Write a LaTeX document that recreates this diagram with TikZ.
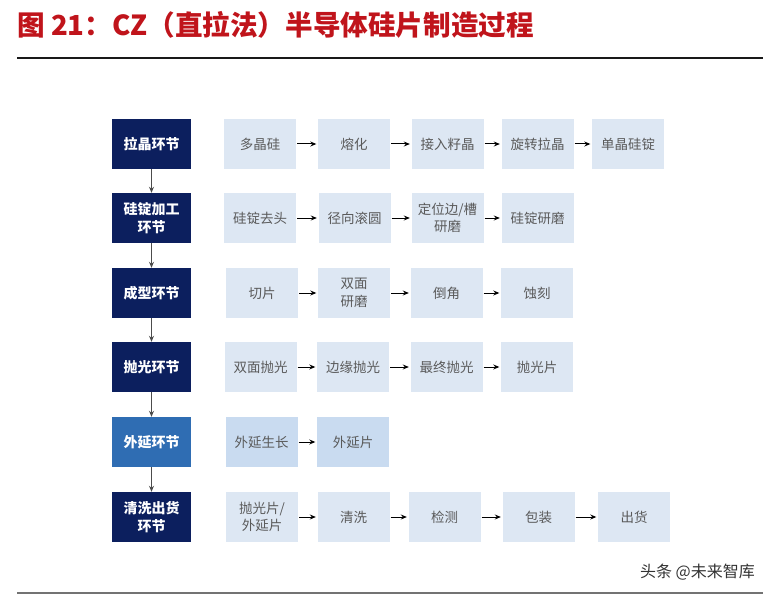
\documentclass[tikz,border=0pt]{standalone}
\usepackage{fontspec}
\newfontfamily\cjk{Noto Sans CJK SC}
\usetikzlibrary{arrows.meta}
\definecolor{titlered}{HTML}{C0141B}
\definecolor{navy}{HTML}{0C1F5E}
\definecolor{midblue}{HTML}{2F6DB3}
\definecolor{lightbox}{HTML}{DDE7F3}
\definecolor{epibox}{HTML}{C9DBF0}
\definecolor{boxtext}{HTML}{5A5A5A}
\begin{document}
\begin{tikzpicture}[x=1pt,y=-1pt,
 stage/.style={fill=navy, minimum width=79pt, minimum height=50pt, inner sep=0pt, text=white, font=\cjk\bfseries\fontsize{14}{18}\selectfont, align=center},
 stepbox/.style={fill=lightbox, minimum width=72pt, minimum height=50pt, inner sep=0pt, text=boxtext, font=\cjk\fontsize{13.5}{17.5}\selectfont, align=center},
 flow/.style={-{Stealth[length=6pt,width=5pt]}, line width=1pt, black, shorten <=1pt, shorten >=1.5pt},
 down/.style={-{Stealth[length=6pt,width=5pt]}, line width=1pt, black!70}]
\useasboundingbox (0,0) rectangle (770,596);

% title and rules
\node[anchor=west, inner sep=0pt, text=titlered, font=\cjk\bfseries\fontsize{27.6}{32}\selectfont] (title) at (17,25) {图 21：CZ（直拉法）半导体硅片制造过程};
\draw[line width=2pt, black!90] (17,58) -- (763,58);
\draw[line width=1.5pt, black!55] (17,593) -- (763,593);
\node[anchor=east, inner sep=0pt, font=\cjk\fontsize{16}{18}\selectfont, text=black!80] (wm) at (755,572) {头条 @未来智库};

% stages
\node[stage] (s1) at (151.5,144) {拉晶环节};
\node[stage] (s2) at (151.5,218) {硅锭加工\\环节};
\node[stage] (s3) at (151.5,293) {成型环节};
\node[stage] (s4) at (151.5,367) {抛光环节};
\node[stage, fill=midblue] (s5) at (151.5,442) {外延环节};
\node[stage] (s6) at (151.5,517) {清洗出货\\环节};
\foreach \a/\b in {s1/s2,s2/s3,s3/s4,s4/s5,s5/s6}
  \draw[down] (\a) -- (\b);

% row 1
\node[stepbox] (a1) at (260,144) {多晶硅};
\node[stepbox] (a2) at (354,144) {熔化};
\node[stepbox] (a3) at (447.5,144) {接入籽晶};
\node[stepbox] (a4) at (537.5,144) {旋转拉晶};
\node[stepbox] (a5) at (628,144) {单晶硅锭};
% row 2
\node[stepbox] (b1) at (260,218) {硅锭去头};
\node[stepbox] (b2) at (354.5,218) {径向滚圆};
\node[stepbox] (b3) at (447.5,218) {定位边/槽\\研磨};
\node[stepbox] (b4) at (537.5,218) {硅锭研磨};
% row 3
\node[stepbox] (c1) at (262,293) {切片};
\node[stepbox] (c2) at (354,293) {双面\\研磨};
\node[stepbox] (c3) at (446.5,293) {倒角};
\node[stepbox] (c4) at (537,293) {蚀刻};
% row 4
\node[stepbox] (d1) at (260.5,367) {双面抛光};
\node[stepbox] (d2) at (353,367) {边缘抛光};
\node[stepbox] (d3) at (446.5,367) {最终抛光};
\node[stepbox] (d4) at (537,367) {抛光片};
% row 5
\node[stepbox, fill=epibox] (e1) at (261.5,442) {外延生长};
\node[stepbox, fill=epibox] (e2) at (353,442) {外延片};
% row 6
\node[stepbox] (f1) at (262,517) {抛光片/\\外延片};
\node[stepbox] (f2) at (353.5,517) {清洗};
\node[stepbox] (f3) at (444.5,517) {检测};
\node[stepbox] (f4) at (538.5,517) {包装};
\node[stepbox] (f5) at (634,517) {出货};

\foreach \a/\b in {a1/a2,a2/a3,a3/a4,a4/a5,b1/b2,b2/b3,b3/b4,c1/c2,c2/c3,c3/c4,d1/d2,d2/d3,d3/d4,e1/e2,f1/f2,f2/f3,f3/f4,f4/f5}
  \draw[flow] (\a) -- (\b);
\end{tikzpicture}
\end{document}
